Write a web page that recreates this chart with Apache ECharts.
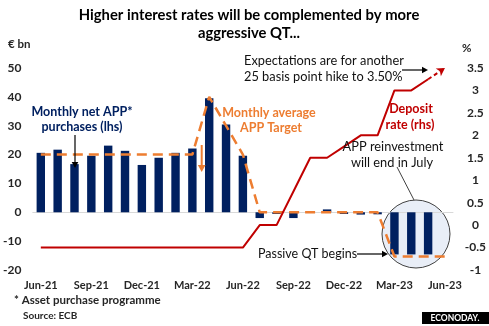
<!DOCTYPE html>
<html>
<head>
<meta charset="utf-8">
<script src="https://cdn.jsdelivr.net/npm/echarts@6/dist/echarts.min.js"></script>
<style>
html,body{margin:0;padding:0;background:#fff;}
#c{width:489px;height:326px;}
</style>
</head>
<body>
<div id="c"></div>
<script>
var months = ['Jun-21','Jul-21','Aug-21','Sep-21','Oct-21','Nov-21','Dec-21','Jan-22','Feb-22','Mar-22','Apr-22','May-22','Jun-22','Jul-22','Aug-22','Sep-22','Oct-22','Nov-22','Dec-22','Jan-23','Feb-23','Mar-23','Apr-23','May-23','Jun-23'];
var netPurchases = [20.6,21.7,16.7,19.6,23.1,21.3,16.4,18.9,20.6,22.1,39.5,30.4,19.6,-2.0,-0.6,-2.0,0.2,1.0,-0.6,-0.8,-0.7,-14.6,-14.6,-14.6,null];
var appTarget = [20,20,20,20,20,20,20,20,20,20,40,30,20,0,0,0,0,0,0,0,0,-15.3,-15.3,-15.3,-15.3];
var depositRate = [-0.5,-0.5,-0.5,-0.5,-0.5,-0.5,-0.5,-0.5,-0.5,-0.5,-0.5,-0.5,-0.5,0,0,0.75,1.5,1.5,1.75,2.0,2.0,3.0,3.0,3.25,null];
var expectedRate = [['May-23',3.25],['Jun-23',3.5]];

var FONT = 'Lato, "Open Sans", sans-serif';
var chart = echarts.init(document.getElementById('c'), null, {renderer:'canvas'});

function txt(t, x, y, size, color, weight, align) {
  return {type:'text', z:20, style:{text:t, x:x, y:y, fill:color, font:(weight||'normal')+' '+size+'px '+FONT, textAlign:align||'center', textVerticalAlign:'middle'}};
}
function arrow(x1,y1,x2,y2,color,w,hs){
  var dx=x2-x1, dy=y2-y1, L=Math.sqrt(dx*dx+dy*dy), ux=dx/L, uy=dy/L;
  hs = hs||6;
  var bx=x2-ux*hs, by=y2-uy*hs, px=-uy*hs*0.55, py=ux*hs*0.55;
  return [
    {type:'line', z:20, shape:{x1:x1,y1:y1,x2:bx,y2:by}, style:{stroke:color,lineWidth:w}},
    {type:'polygon', z:20, shape:{points:[[x2,y2],[bx+px,by+py],[bx-px,by-py]]}, style:{fill:color}}
  ];
}

var graphics = [
  {type:'circle', z:1, zlevel:0, shape:{cx:416, cy:234, r:34}, style:{fill:'#E9EEF7', stroke:'#404040', lineWidth:1}},
  {type:'line', z:20, shape:{x1:397,y1:167,x2:414,y2:200}, style:{stroke:'#404040', lineWidth:1}},
  txt('Higher interest rates will be complemented by more', 249, 15, 14.8, '#000', 'bold'),
  txt('aggressive QT...', 249, 33, 14.8, '#000', 'bold'),
  txt('€ bn', 8, 44, 11.5, '#262626', 'bold', 'left'),
  txt('%', 462, 48, 11.5, '#262626', 'bold', 'left'),
  txt('Expectations are for another', 244, 61, 12.8, '#111', 'normal', 'left'),
  txt('25 basis point hike to 3.50%', 244, 77, 12.8, '#111', 'normal', 'left'),
  txt('Monthly net APP*', 82, 112, 12.5, '#002060', 'bold'),
  txt('purchases (lhs)', 82, 127, 12.5, '#002060', 'bold'),
  txt('Monthly average', 269, 113, 12.5, '#ED7D31', 'bold'),
  txt('APP Target', 271, 128, 12.5, '#ED7D31', 'bold'),
  txt('Deposit', 411, 109, 12.5, '#C00000', 'bold'),
  txt('rate (rhs)', 410, 125, 12.5, '#C00000', 'bold'),
  txt('APP reinvestment', 393, 147, 12.8, '#111', 'normal'),
  txt('will end in July', 392, 163, 12.8, '#111', 'normal'),
  txt('Passive QT begins', 258, 254, 12.5, '#111', 'normal', 'left'),
  txt('* Asset purchase programme', 14, 300, 11.5, '#262626', 'bold', 'left'),
  txt('Source: ECB', 23, 316, 10, '#262626', 'bold', 'left'),
  {type:'rect', z:20, shape:{x:422, y:312, width:67, height:12}, style:{fill:'#000'}},
  {type:'text', z:21, style:{text:'ECONODAY.', x:455, y:318, fill:'#fff', font:'bold 8.5px '+FONT, textAlign:'center', textVerticalAlign:'middle'}}
];
graphics = graphics.concat(arrow(75,135,75,168,'#000',1.2,6));
graphics = graphics.concat(arrow(201.7,145,201.7,172,'#ED7D31',2,7));
graphics = graphics.concat(arrow(402,70,428,70,'#000',1.2,6));
graphics = graphics.concat(arrow(357,254,388,254,'#000',1.2,6));

chart.setOption({
  animation:false,
  textStyle:{fontFamily:FONT},
  grid:{left:32, right:35, top:68, bottom:56, containLabel:false},
  xAxis:{type:'category', data:months, boundaryGap:true,
    axisLine:{show:false}, axisTick:{show:false},
    axisLabel:{interval:2, margin:10, fontSize:11, fontWeight:'bold', color:'#262626', fontFamily:FONT}},
  yAxis:[
    {type:'value', min:-20, max:50, interval:10, splitLine:{show:false}, axisLine:{show:false}, axisTick:{show:false},
     axisLabel:{margin:11, fontSize:12, fontWeight:'bold', color:'#262626', fontFamily:FONT}},
    {type:'value', min:-1, max:3.5, interval:0.5, splitLine:{show:false}, axisLine:{show:false}, axisTick:{show:false},
     axisLabel:{margin:22, align:'center', fontSize:12, fontWeight:'bold', color:'#262626', fontFamily:FONT}}
  ],
  series:[
    {type:'bar', name:'Monthly net APP purchases', data:netPurchases, yAxisIndex:0, barWidth:'50%', z:3,
     itemStyle:{color:'#002060'},
     markLine:{silent:true, symbol:['none','none'], label:{show:false}, z:2,
       lineStyle:{color:'#D9D9D9', width:1, type:'solid'}, data:[{yAxis:0}]}},
    {type:'line', name:'Monthly average APP Target', data:appTarget, yAxisIndex:0, showSymbol:false, z:4,
     lineStyle:{color:'#ED7D31', width:2.5, type:[10,6]}},
    {type:'line', name:'Deposit rate', data:depositRate, yAxisIndex:1, showSymbol:false, z:5,
     lineStyle:{color:'#C00000', width:2},
     markLine:{silent:true, symbol:['none','arrow'], symbolSize:[7,8], label:{show:false},
       lineStyle:{color:'#C00000', width:2, type:[4,3]},
       data:[[{coord:expectedRate[0]},{coord:expectedRate[1]}]]}}
  ],
  graphic:graphics
});
</script>
</body>
</html>
